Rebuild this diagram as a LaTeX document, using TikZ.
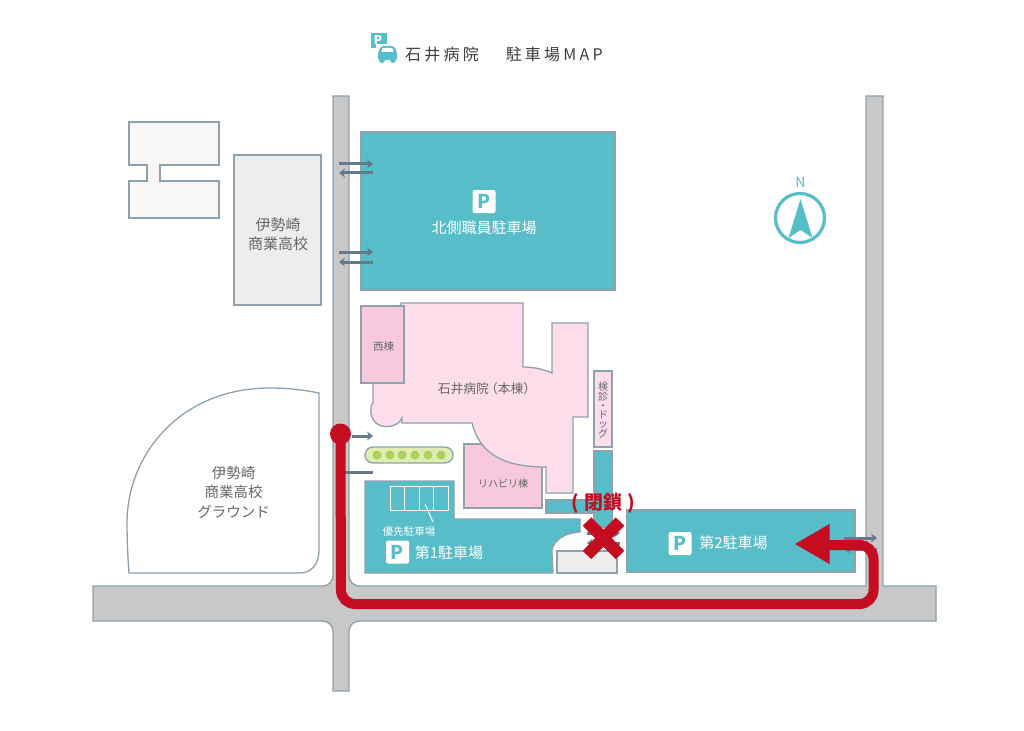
\documentclass[tikz,border=0pt]{standalone}
\usepackage{fontspec}
\setmainfont{Noto Sans CJK JP}
\usepackage{xcolor}
\usetikzlibrary{arrows.meta}
\definecolor{edgegray}{HTML}{8FA1AD}
\definecolor{roadgray}{HTML}{C8C8C8}
\definecolor{lotteal}{HTML}{57BDC9}
\definecolor{mainpink}{HTML}{FCDDE9}
\definecolor{wingpink}{HTML}{F8C9DD}
\definecolor{gatearrow}{HTML}{64798C}
\definecolor{routered}{HTML}{C50D22}
\definecolor{labelgray}{HTML}{666666}
\definecolor{stripgreen}{HTML}{DEEDB0}
\definecolor{dotgreen}{HTML}{A9D15D}
\newcommand{\fs}[1]{\fontsize{#1}{#1}\selectfont}

\begin{document}
\begin{tikzpicture}[
  x=1pt, y=-1pt,
  >=Stealth,
  every node/.style={inner sep=0pt, align=center},
  plan/.style={draw=edgegray, line width=1.3pt, line join=miter},
  road/.style={plan, fill=roadgray},
  lot/.style={plan, fill=lotteal},
  mainbldg/.style={plan, fill=mainpink},
  wing/.style={plan, fill=wingpink},
  school/.style={plan, fill=black!7},
  lbl/.style={text=labelgray, font=\fs{14.5}},
  lotlbl/.style={text=white, font=\fs{15}},
  picon/.style={fill=white, rounded corners=2pt, minimum size=23pt, text=lotteal, font=\fs{19}\bfseries},
  gate/.style={draw=gatearrow, line width=3pt, -{Stealth[length=6pt,width=9pt]}},
  route/.style={draw=routered, line width=10pt, rounded corners=14pt}
]
\useasboundingbox (0,0) rectangle (1024,730);
\fill[white] (0,0) rectangle (1024,730);

% Roads
\draw[road] (333,96) -- (333,574) .. controls (333,582) and (329,586) .. (321,586) -- (93,586) -- (93,621)
  -- (321,621) .. controls (329,621) and (333,625) .. (333,633) -- (333,691) -- (349,691)
  -- (349,633) .. controls (349,625) and (353,621) .. (361,621) -- (936,621) -- (936,586) -- (883,586)
  -- (883,96) -- (866,96) -- (866,586) -- (361,586) .. controls (353,586) and (349,582) .. (349,574) -- (349,96) -- cycle;

% Title
\fill[lotteal] (371,33) rectangle (387,48);
\node[text=white, font=\fs{12}\bfseries] (titlep) at (378,40) {P};
\fill[white] (376,44) rectangle (399,65);
\fill[lotteal, rounded corners=2pt] (378,52) -- (381,46) -- (394,46) -- (397,52) -- (397,60) -- (378,60) -- cycle;
\fill[white, rounded corners=1pt] (382.5,48) -- (392.5,48) -- (394,52) -- (381,52) -- cycle;
\fill[lotteal] (382,60) circle (3pt);
\fill[lotteal] (393,60) circle (3pt);
\node[anchor=west, text=labelgray!60!black, font=\fs{16}\addfontfeature{LetterSpace=20}, text height=12pt, text depth=2pt] (title) at (405,56) {石井病院\hspace{27pt}駐車場MAP};

% Neighbouring blocks
\draw[plan, fill=black!3] (129,122) -- (219,122) -- (219,165) -- (160,165) -- (160,181) -- (219,181) -- (219,218)
  -- (129,218) -- (129,181) -- (147,181) -- (147,165) -- (129,165) -- cycle;
\draw[school] (234,155) rectangle (321,305);
\node[lbl, font=\fs{15}] (schoollbl) at (278,234.5) {伊勢崎\\[4pt]商業高校};
\draw[plan, fill=white] (129,573) .. controls (128,560) and (127,540) .. (127,523)
  .. controls (127,455) and (180,388) .. (270,388) .. controls (288,388) and (304,390) .. (319,393)
  -- (319,550) .. controls (319,564) and (312,573) .. (299,573) -- cycle;
\node[lbl] (groundlbl) at (233.5,492) {伊勢崎\\[5pt]商業高校\\[5pt]グラウンド};

% North staff lot
\draw[lot] (361,132) rectangle (615,290);
\node[picon] (northp) at (484,201.5) {P};
\node[lotlbl] (northlbl) at (484,228) {北側職員駐車場};

% Hospital buildings
\draw[wing] (464,444) rectangle (542,508);
\node[lbl, font=\fs{10}] (rehablbl) at (503,484) {リハビリ棟};
\draw[mainbldg] (401,303) -- (523,303) -- (523,367) .. controls (533,367) and (543,369) .. (552,373)
  -- (552,323) -- (588,323) -- (588,417) -- (573,417) -- (573,493) -- (546,493) -- (546,467)
  .. controls (505,467) and (480,455) .. (472,423) -- (402,423) -- (402,418)
  .. controls (398,430) and (368,432) .. (371,407) .. controls (371,405) and (372,404) .. (373,403) -- (373,383) -- cycle;
\draw[wing] (361,306) rectangle (404,383);
\node[lbl, font=\fs{10.5}] (westlbl) at (383.5,347) {西棟};
\node[lbl, font=\fs{12.8}] (mainlbl) at (485,388.5) {石井病院\hspace{-4pt}（本棟）\hspace{-4pt}};
\draw[plan, fill=mainpink] (594,371) rectangle (612,447);
\node[lbl, font=\fs{10}] (docklbl) at (603,410) {検\\[-0.3pt]診\\[-1pt]・\\[-1pt]ド\\[-0.3pt]ッ\\[-0.3pt]グ};

% Lot 1
\draw[lot] (546,500) -- (594,500) -- (594,451) -- (612,451) -- (612,527) -- (594,527) -- (594,513) -- (546,513) -- cycle;
\draw[lot] (365,481) -- (454,481) -- (454,519) -- (580,519) -- (580,532) .. controls (562,533) and (550,543) .. (552,555)
  -- (553,573) -- (365,573) -- cycle;
\draw[plan, fill=black!7] (557,551) rectangle (617,573);
\draw[white, line width=1pt] (390,486) rectangle (448,510);
\foreach \slotx in {404,419,433}
  \draw[white, line width=1pt] (\slotx,486) -- (\slotx,510);
\node[coordinate] (slotfoot) at (425,504) {};
\node[coordinate] (slotleader) at (433,522) {};
\draw[white, line width=1pt] (slotfoot) -- (slotleader);
\node[lotlbl, font=\fs{10.5}] (prioritylbl) at (409,531.5) {優先駐車場};
\node[picon] (firstp) at (397.5,552) {P};
\node[lotlbl] (firstlbl) at (449,552.5) {第1駐車場};

% Lot 2
\draw[lot] (627,510) rectangle (855,572);
\node[picon] (secondp) at (680,543.5) {P};
\node[lotlbl] (secondlbl) at (733.5,543) {第2駐車場};

% Gate arrows
\foreach \gatey in {164,252}
  \draw[gate] (339,\gatey) -- (373,\gatey);
\foreach \gatey in {173,262}
  \draw[gate] (373,\gatey) -- (339,\gatey);
\draw[gate] (352,436) -- (373,436);
\draw[gatearrow, line width=3pt] (345,472) -- (373,472);
\draw[gate] (587,533) -- (620,533);
\draw[gate] (620,543) -- (587,543);
\draw[gate] (844,538) -- (877,538);
\draw[gate] (877,549) -- (844,549);

% Green strip
\draw[plan, fill=stripgreen, rounded corners=8pt] (365,447) rectangle (453,463);
\foreach \dotx in {377,390,402,415,428,441}
  \fill[dotgreen] (\dotx,455) circle (4.5pt);

% Compass
\draw[lotteal, line width=3.2pt] (800,218) circle (24.5pt);
\fill[lotteal] (800.5,199) -- (812.5,238) -- (800.5,230) -- (788.5,238) -- cycle;
\node[text=lotteal, font=\fs{14}] (northmark) at (800.5,182) {N};

% Route
\node[circle, fill=routered, minimum size=21pt] (routestart) at (340.5,434) {};
\node[coordinate] (routeend) at (825,545) {};
\draw[route] (routestart.center) -- (341,604) -- (873.5,604) -- (873.5,545) -- (routeend);
\fill[routered] (795,544) -- (829.5,524) -- (829.5,564) -- cycle;

% Closed entrance
\draw[routered, line width=12pt] (587,521.5) -- (620,555);
\draw[routered, line width=12pt] (620,521.5) -- (587,555);
\node[text=routered, font=\fs{19}\bfseries] (closedlbl) at (603.5,503) {(\hspace{5pt}閉鎖\hspace{5pt})};

\end{tikzpicture}
\end{document}
